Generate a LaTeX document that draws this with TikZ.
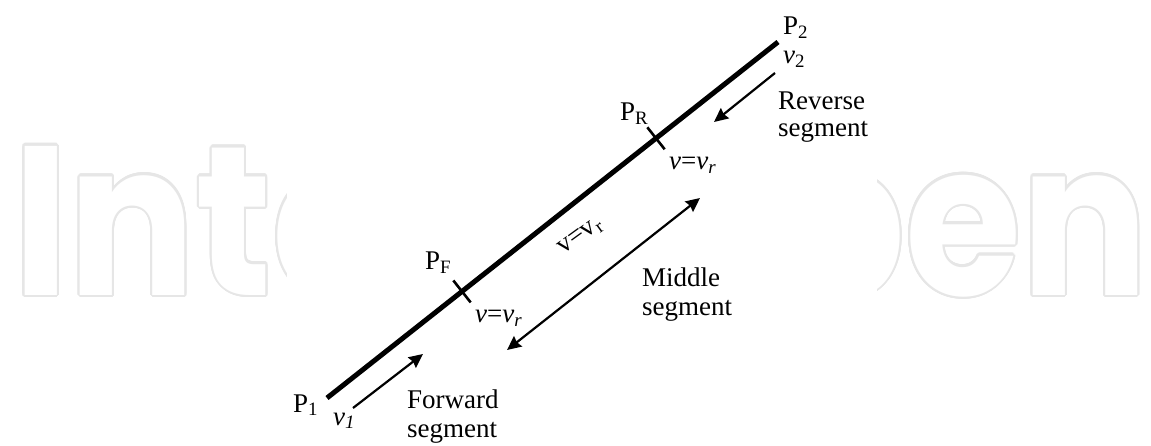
\documentclass[tikz,border=0pt]{standalone}
\usepackage{fontspec}
\setmainfont{Liberation Serif}
\newfontfamily\wmfont{Poppins}
\usepackage{contour}
\usetikzlibrary{arrows.meta,calc}
\definecolor{wmgray}{HTML}{E6E6E6}
\contournumber{20}
\contourlength{0.11pt}
\tikzset{
  lbl/.style={inner sep=0pt, anchor=base west, font=\fontsize{27}{29}\selectfont},
  mainline/.style={line width=5pt},
  tickmark/.style={line width=2.6pt},
  arr/.style={line width=2.2pt, -{Stealth[length=14pt,width=13pt,inset=1.5pt]}},
  darr/.style={line width=2.2pt, {Stealth[length=14pt,width=13pt,inset=1.5pt]}-{Stealth[length=14pt,width=13pt,inset=1.5pt]}},
}
\begin{document}
\begin{tikzpicture}[x=1pt,y=-1pt]
\useasboundingbox (0,0) rectangle (1151,446);
\fill[white] (0,0) rectangle (1151,446);
% watermark
\node[anchor=base west, inner sep=0pt] (wm) at (13,295)
  {\resizebox{1135pt}{157pt}{\wmfont\bfseries\color{white}\contour{wmgray}{IntechOpen}}};
\fill[white] (287,0) rectangle (877,446);
% main segment
\coordinate (A) at (327,398);
\coordinate (B) at (778,42);
\draw[mainline] (A) -- (B);
\coordinate (PF) at ($(A)!0.2993!(B)$);
\coordinate (PR) at ($(A)!0.7295!(B)$);
\draw[tickmark] ($(PF)!14pt!90:(B)$) -- ($(PF)!14pt!-90:(B)$);
\draw[tickmark] ($(PR)!14pt!90:(B)$) -- ($(PR)!14pt!-90:(B)$);
% arrows
\coordinate (f1) at (353,408); \coordinate (f2) at (423,354);
\draw[arr] (f1) -- (f2);
\coordinate (r1) at (775,73); \coordinate (r2) at (714,122);
\draw[arr] (r1) -- (r2);
\coordinate (m1) at (507,350); \coordinate (m2) at (700,198);
\draw[darr] (m1) -- (m2);
% labels
\node[lbl] (P1) at (293,412) {P\textsubscript{1}};
\node[lbl] (v1) at (333,425) {\textit{v}\textsubscript{\textit{1}}};
\node[lbl] (P2) at (783,35) {P\textsubscript{2}};
\node[lbl] (v2) at (783,64) {\textit{v}\textsubscript{2}};
\node[lbl] (rev1) at (778,110) {Reverse};
\node[lbl] (rev2) at (778,137) {segment};
\node[lbl] (PRl) at (620,121) {P\textsubscript{R}};
\node[lbl] (vru) at (669,170) {\textit{v}=\textit{v}\textsubscript{\textit{r}}};
\node[lbl] (PFl) at (425,270) {P\textsubscript{F}};
\node[lbl] (vrl) at (475,323) {\textit{v}=\textit{v}\textsubscript{\textit{r}}};
\node[inner sep=0pt, rotate=36, font=\fontsize{27}{29}\selectfont] (vm) at (581,237) {v=v\textsubscript{r}};
\node[lbl] (mid1) at (642,287) {Middle};
\node[lbl] (mid2) at (642,316) {segment};
\node[lbl] (fw1) at (407,408) {Forward};
\node[lbl] (fw2) at (407,437) {segment};
\end{tikzpicture}
\end{document}
